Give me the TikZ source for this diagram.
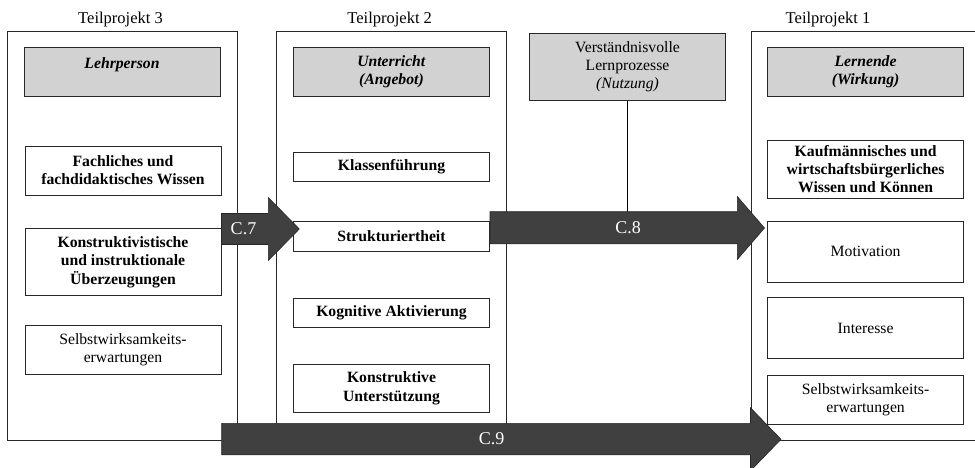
\documentclass[tikz,border=0pt]{standalone}
\usepackage{fontspec}
\setmainfont{Liberation Serif}
\definecolor{boxgray}{RGB}{210,210,210}
\definecolor{arrowfill}{RGB}{64,64,64}
\definecolor{linecol}{RGB}{40,40,40}
\begin{document}
\begin{tikzpicture}[x=1pt,y=-1pt,
  outerbox/.style={draw=linecol, line width=0.9pt, fill=none},
  wbox/.style={draw=linecol, line width=0.9pt, fill=white, align=center, inner sep=0pt,
     font=\fontsize{15.7}{18.3}\selectfont},
  gbox/.style={wbox, fill=boxgray},
  title/.style={font=\fontsize{16.5}{19}\selectfont, anchor=base},
  blockarrow/.style={fill=arrowfill, draw=black!85, line width=0.6pt},
  alabel/.style={text=white, font=\fontsize{18}{20}\selectfont}]
\clip (0,0) rectangle (975,468);
\fill[white] (0,0) rectangle (975,468);

% titles
\node[title] (t3) at (120.5,23.3) {Teilprojekt 3};
\node[title] (t2) at (389.7,23.3) {Teilprojekt 2};
\node[title] (t1) at (828,23.3) {Teilprojekt 1};

% outer column frames
\draw[outerbox] (7.3,31.5) rectangle (237.7,440.7);
\draw[outerbox] (276.5,31.5) rectangle (506.7,440.7);
\draw[outerbox] (751,31.5) rectangle (990,440.7);

% column Teilprojekt 3
\node[gbox, minimum width=196pt, minimum height=48.5pt] (lehr) at (122,71.75)
  {\textbf{\textit{Lehrperson}}\\\phantom{X}};
\node[wbox, minimum width=196pt, minimum height=49pt] (fach) at (123,170.5)
  {\textbf{Fachliches und}\\\textbf{fachdidaktisches Wissen}};
\node[wbox, minimum width=196pt, minimum height=67.4pt] (konst) at (123,262)
  {\textbf{Konstruktivistische}\\\textbf{und instruktionale}\\\textbf{Überzeugungen}};
\node[wbox, minimum width=196pt, minimum height=48.6pt] (selbstL) at (123,350)
  {Selbstwirksamkeits-\\erwartungen};

% column Teilprojekt 2
\node[gbox, minimum width=196.4pt, minimum height=48.7pt] (unter) at (391.5,71.65)
  {\textbf{\textit{Unterricht}}\\\textbf{\textit{(Angebot)}}};
\node[wbox, minimum width=196.4pt, minimum height=29pt] (klass) at (391.5,167.2)
  {\textbf{Klassenführung}};
\node[wbox, minimum width=196.4pt, minimum height=30pt] (struk) at (391.5,236)
  {\textbf{Strukturiertheit}};
\node[wbox, minimum width=196.4pt, minimum height=29.4pt] (kogn) at (391.5,313)
  {\textbf{Kognitive Aktivierung}};
\node[wbox, minimum width=196.4pt, minimum height=48.7pt] (konstU) at (391.5,388.35)
  {\textbf{Konstruktive}\\\textbf{Unterstützung}};

% middle
\node[gbox, minimum width=196.4pt, minimum height=67.7pt] (verst) at (627.5,66.85)
  {Verständnisvolle\\Lernprozesse\\\textit{(Nutzung)}};

% column Teilprojekt 1
\node[gbox, minimum width=195.8pt, minimum height=48.7pt] (lern) at (865.6,71.65)
  {\textbf{\textit{Lernende}}\\\textbf{\textit{(Wirkung)}}};
\node[wbox, minimum width=195.8pt, minimum height=58.3pt] (kauf) at (865.6,169.15)
  {\textbf{Kaufmännisches und}\\\textbf{wirtschaftsbürgerliches}\\\textbf{Wissen und Können}};
\node[wbox, minimum width=195.8pt, minimum height=61.3pt] (moti) at (865.6,251.65)
  {Motivation};
\node[wbox, minimum width=195.8pt, minimum height=60.6pt] (inter) at (865.6,328)
  {Interesse};
\node[wbox, minimum width=195.8pt, minimum height=49pt] (selbstR) at (865.6,399.5)
  {Selbstwirksamkeits-\\erwartungen};

% link from learning processes down to arrow C.8
\coordinate (c8top) at (627.5,211.7);
\draw[black, line width=1.4pt] (verst.south) -- (c8top);

% block arrows
\draw[blockarrow] (221.5,213.5) -- (268.3,213.5) -- (268.3,197.5) -- (299.3,229)
  -- (268.3,260.5) -- (268.3,244.5) -- (221.5,244.5) -- cycle;
\node[alabel] (c7) at (243.5,229) {C.7};

\draw[blockarrow] (490,211.7) -- (737.3,211.7) -- (737.3,196.5) -- (764.5,228)
  -- (737.3,259.5) -- (737.3,243.8) -- (490,243.8) -- cycle;
\node[alabel] (c8) at (628,228) {C.8};

\draw[blockarrow] (221.7,423.3) -- (750.5,423.3) -- (750.5,407.8) -- (781,439.3)
  -- (750.5,470.8) -- (750.5,454.8) -- (221.7,454.8) -- cycle;
\node[alabel] (c9) at (491.5,439) {C.9};
\end{tikzpicture}
\end{document}
